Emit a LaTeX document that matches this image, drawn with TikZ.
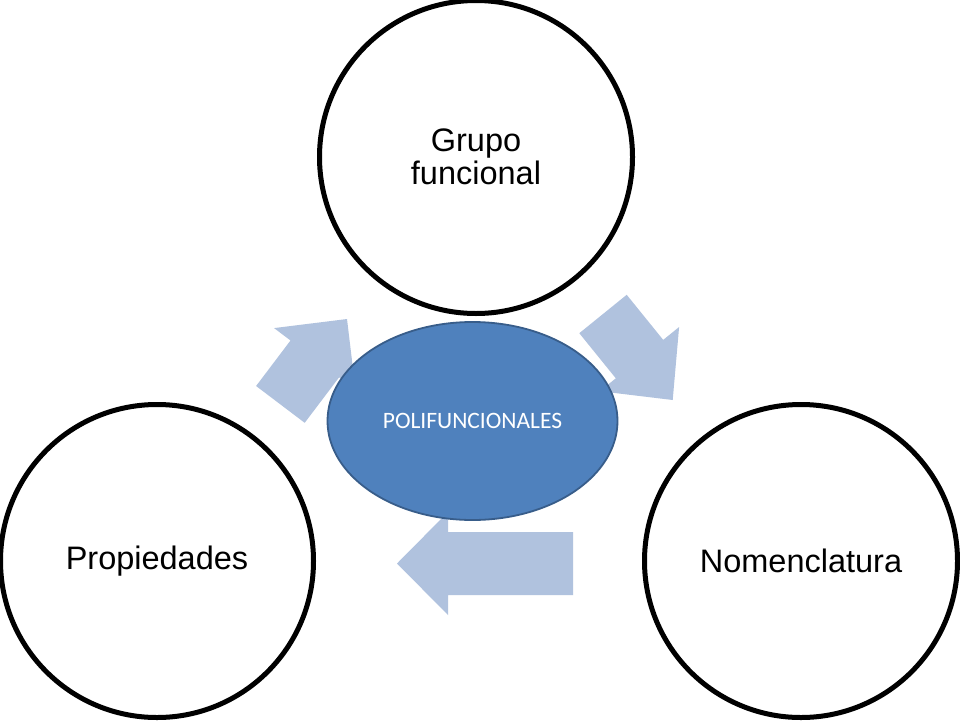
\documentclass[tikz,border=0pt]{standalone}
\usepackage{fontspec}
\setmainfont{Liberation Sans}
\newfontfamily\calfont{Carlito}
\usetikzlibrary{shapes.geometric}
\definecolor{arrowblue}{RGB}{176,194,222}
\definecolor{ellfill}{RGB}{79,129,189}
\definecolor{elldraw}{RGB}{56,93,138}
\begin{document}
\begin{tikzpicture}[x=1pt,y=-1pt,
  bigcircle/.style={circle,draw=black,line width=5pt,fill=white,minimum size=313pt,inner sep=0pt,align=center,font=\fontsize{32.5}{33}\selectfont},
  blockarrow/.style={fill=arrowblue},
  centre/.style={ellipse,draw=elldraw,line width=1.8pt,fill=ellfill,minimum width=290pt,minimum height=198pt,inner sep=0pt,text=white,font=\calfont\fontsize{23.5}{26}\selectfont}]
\useasboundingbox (0,0) rectangle (960,720);
\fill[white] (0,0) rectangle (960,720);
% arrows
\fill[blockarrow] (256.1,386.0) -- (290.5,340.5) -- (274.1,328.1) -- (347,319) -- (355.5,389.7) -- (339.1,377.3) -- (304.7,422.8) -- cycle;
\fill[blockarrow] (626.7,294.8) -- (663.2,339.9) -- (679.1,327.0) -- (672.7,400) -- (599.9,391.2) -- (615.8,378.3) -- (579.3,333.2) -- cycle;
\fill[blockarrow] (573,532) -- (448,532) -- (448,512) -- (397,563.5) -- (448,615) -- (448,595) -- (573,595) -- cycle;
% circles
\node[bigcircle] (grupo) at (476,157) {Grupo\\funcional};
\node[bigcircle] (prop) at (157,561) {Propiedades};
\node[bigcircle] (nomen) at (801,561) {Nomenclatura};
% centre
\node[centre] (poli) at (472.5,421) {POLIFUNCIONALES};
\end{tikzpicture}
\end{document}
